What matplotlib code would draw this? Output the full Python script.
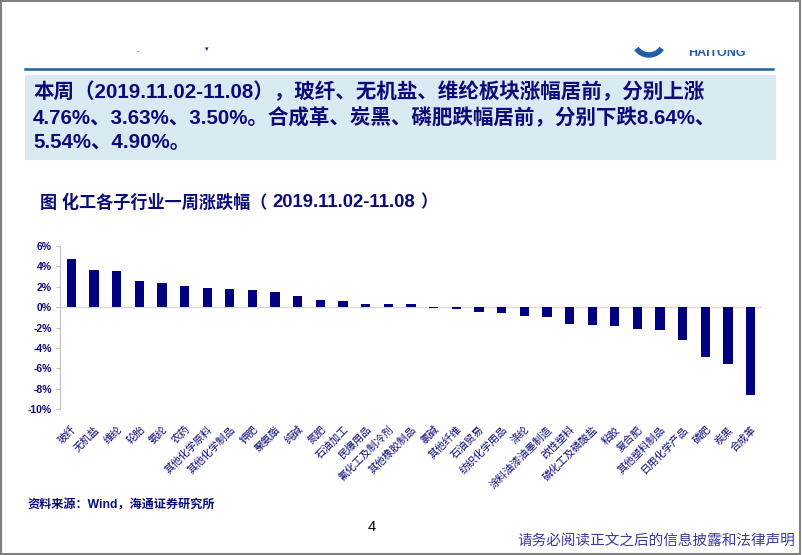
import matplotlib
matplotlib.use('Agg')
import matplotlib.pyplot as plt
from matplotlib.patches import Rectangle, Arc

plt.rcParams['font.family'] = ['Liberation Sans', 'Noto Sans CJK SC', 'DejaVu Sans']

# weekly change of chemical sub-industries, 2019.11.02-11.08 (%)
categories = ['玻纤', '无机盐', '维纶', '轮胎', '氨纶', '农药', '其他化学原料', '其他化学制品',
              '钾肥', '聚氨酯', '纯碱', '氮肥', '石油加工', '民爆用品', '氟化工及制冷剂',
              '其他橡胶制品', '氯碱', '其他纤维', '石油贸易', '纺织化学用品', '涤纶',
              '涂料油漆油墨制造', '改性塑料', '磷化工及磷酸盐', '粘胶', '复合肥',
              '其他塑料制品', '日用化学产品', '磷肥', '炭黑', '合成革']
changes = [4.76, 3.63, 3.50, 2.52, 2.33, 2.05, 1.90, 1.80, 1.66, 1.53, 1.05, 0.72, 0.62,
           0.35, 0.29, 0.28, -0.12, -0.18, -0.52, -0.58, -0.91, -0.95, -1.62, -1.78,
           -1.88, -2.16, -2.20, -3.18, -4.90, -5.54, -8.64]
y_ticks = [6, 4, 2, 0, -2, -4, -6, -8, -10]

W, H = 802, 555
NAVY = '#0a0a78'


def fx(px):
    return px / W


def fy(py):
    return 1 - py / H


fig = plt.figure(figsize=(W / 100, H / 100), dpi=100)

# slide frame and header
fig.patches.append(Rectangle((0.001, 0.002), 0.997, 0.996, transform=fig.transFigure,
                             fill=False, edgecolor='#808080', linewidth=1.5))
fig.add_artist(plt.Line2D([fx(25), fx(773)], [fy(69), fy(69)], color='#1f5fa8', linewidth=1.8))
fig.text(fx(137), fy(50), '.', fontsize=6, color='black', ha='center', va='center')
fig.text(fx(207), fy(50), '▾', fontsize=5, color='#102060', ha='center', va='center')
fig.text(fx(688), fy(53), 'HAITONG', fontsize=9, fontweight='bold', color='#1f5fa8',
         ha='left', va='center')
fig.patches.append(Rectangle((fx(680), fy(50)), fx(80), fy(40) - fy(50) + 0.001,
                             transform=fig.transFigure, facecolor='white', edgecolor='none', zorder=5))
fig.patches.append(Arc((fx(649), fy(38)), fx(32), 34 / H, theta1=230, theta2=310,
                       transform=fig.transFigure, color='#1f5fa8', linewidth=4))

# summary box
fig.patches.append(Rectangle((fx(25), fy(160)), fx(776 - 25), (160 - 75) / H,
                             transform=fig.transFigure, facecolor='#daeaf3', edgecolor='none'))
lines = ['本周（2019.11.02-11.08），玻纤、无机盐、维纶板块涨幅居前，分别上涨',
         '4.76%、3.63%、3.50%。合成革、炭黑、磷肥跌幅居前，分别下跌8.64%、',
         '5.54%、4.90%。']
for i, line in enumerate(lines):
    fig.text(fx(33), fy(92 + i * 25.5), line, fontsize=14.8, fontweight='bold',
             color=NAVY, ha='left', va='center')

# chart title
fig.text(fx(40), fy(202), '图 化工各子行业一周涨跌幅（', fontsize=12.3,
         fontweight='bold', color=NAVY, ha='left', va='center')
fig.text(fx(272), fy(202), '2019.11.02-11.08', fontsize=13.3,
         fontweight='bold', color=NAVY, ha='left', va='center')
fig.text(fx(437), fy(202), '）', fontsize=12.3,
         fontweight='bold', color=NAVY, ha='right', va='center')

# bar chart
ax = fig.add_axes([fx(60), fy(409), fx(762 - 60), (409 - 246) / H])
x = range(len(categories))
ax.bar(x, changes, width=0.41, color='#000080', zorder=3)
ax.axhline(0, color='#d9d9d9', linewidth=1, zorder=2)
ax.set_xlim(-0.5, len(categories) - 0.5)
ax.set_ylim(-10, 6)
ax.set_yticks(y_ticks)
ax.set_yticklabels([f'{v}%' for v in y_ticks], fontsize=7.5, fontweight='bold', color=NAVY)
ax.set_xticks(list(x))
ax.set_xticklabels(categories, rotation=45, ha='right', rotation_mode='anchor',
                   fontsize=7.5, color=NAVY, family=['Noto Sans CJK SC', 'DejaVu Sans'])
ax.tick_params(axis='x', length=0, pad=11)
ax.tick_params(axis='y', length=3, color='#c0c0c0', pad=3)
for side in ['top', 'right', 'bottom']:
    ax.spines[side].set_visible(False)
ax.spines['left'].set_color('#c0c0c0')
ax.patch.set_alpha(0)

# footer
fig.text(fx(28), fy(505), '资料来源：Wind，海通证券研究所', fontsize=8.7, fontweight='bold',
         color=NAVY, ha='left', va='center')
fig.text(fx(372), fy(527), '4', fontsize=10.5, color='black', ha='center', va='center')
fig.text(fx(795), fy(541), '请务必阅读正文之后的信息披露和法律声明', fontsize=10.5,
         color='#3a3aa0', ha='right', va='center', family=['Noto Sans CJK SC'])

fig.savefig('out.png', dpi=100)
